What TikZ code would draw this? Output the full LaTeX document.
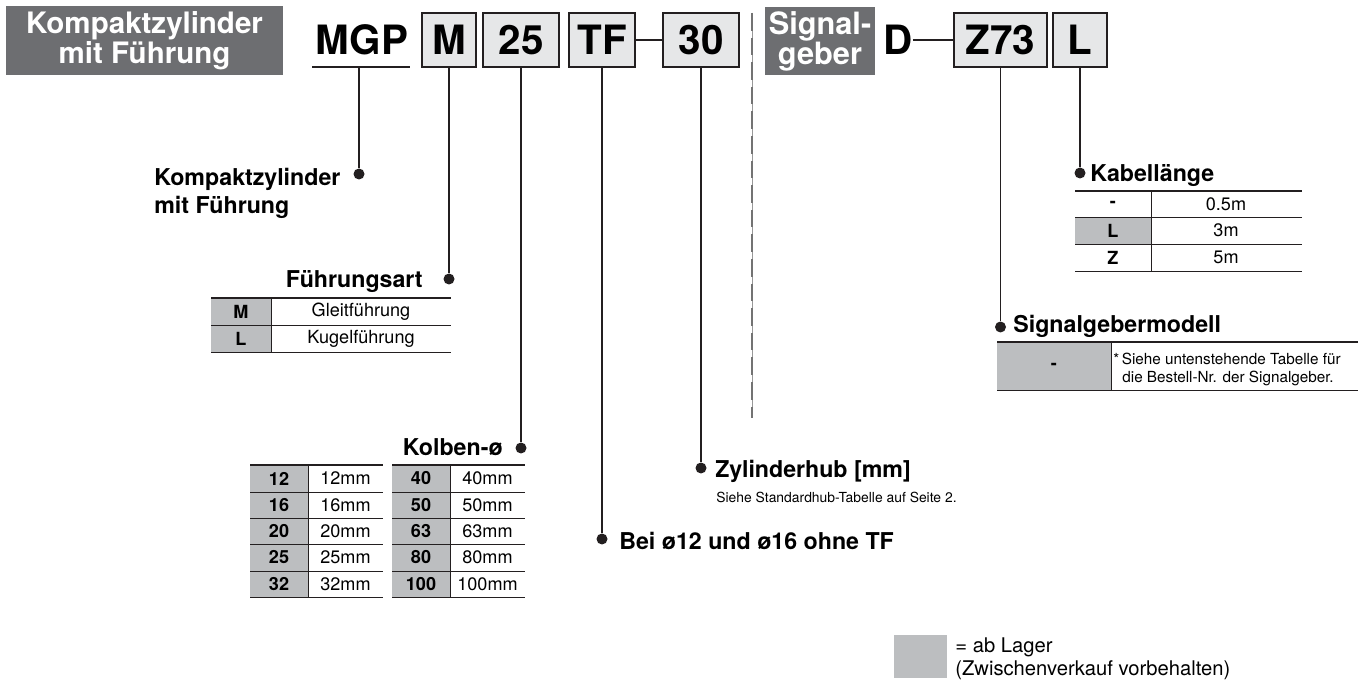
\documentclass[tikz,border=0pt]{standalone}
\usepackage{fontspec}
\setmainfont{TeX Gyre Heros}
\definecolor{titlegray}{HTML}{6D6E71}
\definecolor{boxgray}{HTML}{E6E7E8}
\definecolor{cellgray}{HTML}{BCBEC0}
\definecolor{ink}{HTML}{231F20}

\begin{document}
\begin{tikzpicture}[x=0.02cm, y=-0.02cm,
    codebox/.style={draw=ink, line width=1.1pt, fill=boxgray, inner sep=0pt,
      minimum height=1.08cm, font=\fontsize{23}{26}\selectfont\bfseries},
    titlebox/.style={fill=titlegray, text=white, inner sep=0pt, align=center},
    dot/.style={circle, fill=ink, inner sep=0pt, minimum size=0.22cm},
    lead/.style={draw=ink, line width=1pt},
    label/.style={inner sep=0pt, font=\fontsize{13.2}{16}\selectfont\bfseries},
    cell/.style={inner sep=0pt, font=\fontsize{10.3}{12}\selectfont},
    keycell/.style={inner sep=0pt, font=\fontsize{10.3}{12}\selectfont\bfseries},
    note/.style={inner sep=0pt, font=\fontsize{8.7}{10}\selectfont}]

\useasboundingbox (0,0) rectangle (1367,682);

% Title boxes
\node[titlebox, minimum width=5.54cm, minimum height=1.38cm,
  font=\fontsize{16.8}{15.5}\selectfont\bfseries] (title) at (144.5,40.5)
  {Kompaktzylinder\\mit Führung};
\node[titlebox, minimum width=2.2cm, minimum height=1.36cm,
  font=\fontsize{17.5}{17}\selectfont\bfseries] (sgtitle) at (820,41)
  {Signal-\\geber};

% Order code
\node[inner sep=0pt, font=\fontsize{23}{26}\selectfont\bfseries] (mgp) at (362,40) {MGP};
\draw[lead, line width=1.1pt] (312,67) coordinate (mgpl) -- (410,67) coordinate (mgpr);
\node[codebox, minimum width=1.08cm] (m) at (449,40) {M};
\node[codebox, minimum width=1.52cm] (bore) at (521,40) {25};
\node[codebox, minimum width=1.32cm] (tf) at (602,40) {TF};
\node[codebox, minimum width=1.52cm] (stroke) at (701,40) {30};
\draw[lead, line width=1.3pt] (tf) -- (stroke);

\node[inner sep=0pt, font=\fontsize{23}{26}\selectfont\bfseries] (d) at (898,40) {D};
\node[codebox, minimum width=1.86cm] (z73) at (1000.5,40) {Z73};
\node[codebox, minimum width=1.08cm] (cable) at (1080,40) {L};
\draw[lead, line width=1.3pt] (d) -- (z73);

% Separator
\draw[gray!80, line width=0.5pt] (752,13) coordinate (septop) -- (752,418) coordinate (sepbot);
\draw[gray!90!black, line width=1.2pt, dash pattern=on 10 off 4] (septop) -- (sepbot);

% Dots
\node[dot] (dmgp) at (359,174) {};
\node[dot] (dm) at (449,279) {};
\node[dot] (dbore) at (521,448) {};
\node[dot] (dtf) at (602,539) {};
\node[dot] (dstroke) at (701,468) {};
\node[dot] (dz73) at (1000.5,327) {};
\node[dot] (dcable) at (1080,173) {};

% Leads
\draw[lead] (dmgp |- mgpl) -- (dmgp);
\draw[lead] (m) -- (dm);
\draw[lead] (bore) -- (dbore);
\draw[lead] (tf) -- (dtf);
\draw[lead] (stroke) -- (dstroke);
\draw[lead] (z73) -- (dz73);
\draw[lead] (cable) -- (dcable);

% Labels
\node[label, align=left, anchor=north west] (lmgp) at (154,168)
  {Kompaktzylinder\\mit Führung};
\node[label, anchor=base east] (lm) at (423,288) {Führungsart};
\node[label, anchor=base east] (lbore) at (503,456) {Kolben-ø};
\node[label, anchor=base west] (ltf) at (619,549) {Bei ø12 und ø16 ohne TF};
\node[label, anchor=base west] (lstroke) at (715,478) {Zylinderhub [mm]};
\node[inner sep=0pt, anchor=base west, font=\fontsize{7.9}{9}\selectfont] (nstroke)
  at (716,502) {Siehe Standardhub-Tabelle auf Seite 2.};
\node[label, anchor=base west] (lz73) at (1013,333) {Signalgebermodell};
\node[label, anchor=base west] (lcable) at (1090,182) {Kabellänge};

% Table: Führungsart
\fill[cellgray] (211,298) rectangle (271,352);
\draw[ink, line width=1.2pt] (211,298) -- (451,298);
\draw[ink, line width=0.5pt] (211,325) -- (451,325) (211,352) -- (451,352)
  (271,298) -- (271,352);
\node[keycell] (tm) at (241,311.5) {M};
\node[cell] (tmtext) at (361,311.5) {Gleitführung};
\node[keycell] (tl) at (241,338.5) {L};
\node[cell] (tltext) at (361,338.5) {Kugelführung};

% Table: Kolben-ø
\fill[cellgray] (250,465) rectangle (308,597);
\fill[cellgray] (392,465) rectangle (450,597);
\draw[ink, line width=1.2pt] (250,465) -- (383,465) (392,465) -- (525,465);
\foreach \y in {492,518,544,571,597}
  \draw[ink, line width=0.5pt] (250,\y) -- (383,\y) (392,\y) -- (525,\y);
\draw[ink, line width=0.5pt] (308,465) -- (308,597) (450,465) -- (450,597);
\foreach \a/\b/\y in {12/40/478.5, 16/50/505, 20/63/531, 25/80/557.5, 32/100/584} {
  \node[keycell] (ka\a) at (279,\y) {\a};
  \node[cell] (kb\a) at (345.5,\y) {\a mm};
  \node[keycell] (kc\b) at (421,\y) {\b};
  \node[cell] (kd\b) at (487.5,\y) {\b mm};
}

% Table: Kabellänge
\fill[cellgray] (1075,217) rectangle (1151,244);
\draw[ink, line width=0.8pt] (1075,191) -- (1302,191);
\foreach \y in {217,244,271}
  \draw[ink, line width=0.5pt] (1075,\y) -- (1302,\y);
\draw[ink, line width=0.5pt] (1151,191) -- (1151,271);
\foreach \k/\v/\y in {-/0.5m/204, L/3m/230.5, Z/5m/257.5} {
  \node[keycell] (c\k) at (1113,\y) {\k};
  \node[cell] (cv\k) at (1226,\y) {\v};
}

% Table: Signalgebermodell
\fill[cellgray] (997,342) rectangle (1111,390);
\draw[ink, line width=0.8pt] (997,342) -- (1358,342);
\draw[ink, line width=0.5pt] (997,390) -- (1358,390) (1111,342) -- (1111,390);
\node[keycell] (sdash) at (1054,366) {-};
\node[note, anchor=base west] (snote1) at (1113,365) {*\,Siehe untenstehende Tabelle für};
\node[note, anchor=base west] (snote2) at (1122,383) {die Bestell-Nr. der Signalgeber.};

% Legend
\fill[cellgray] (894,635) rectangle (947,678);
\node[inner sep=0pt, anchor=base west, font=\fontsize{11.5}{13}\selectfont] (leg1)
  at (955,652) {= ab Lager};
\node[inner sep=0pt, anchor=base west, font=\fontsize{11.5}{13}\selectfont] (leg2)
  at (955,675) {(Zwischenverkauf vorbehalten)};

\end{tikzpicture}
\end{document}
